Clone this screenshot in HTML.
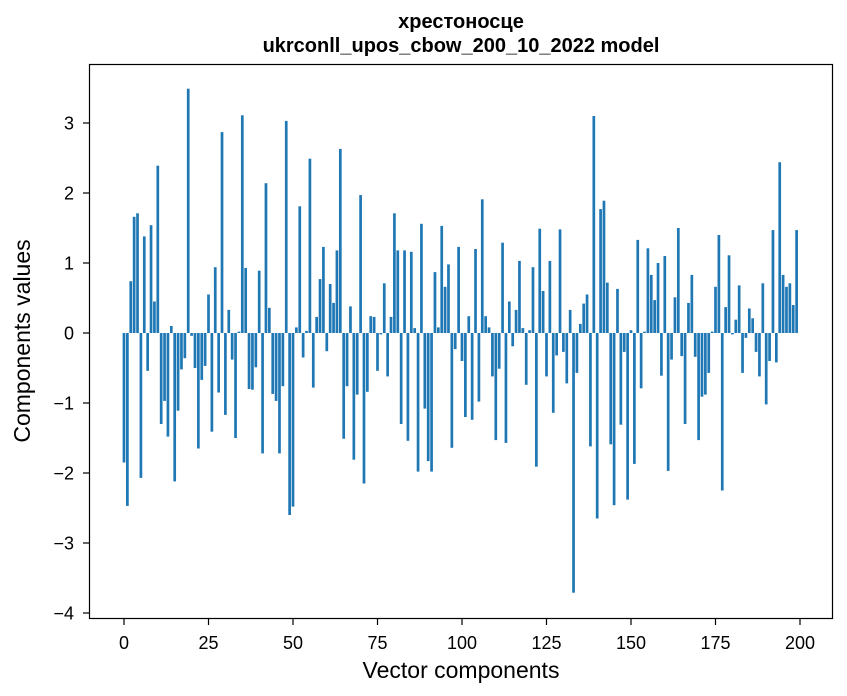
<!DOCTYPE html>
<html><head><meta charset="utf-8"><style>
html,body{margin:0;padding:0;background:#fff;}
svg{display:block;font-family:"Liberation Sans","DejaVu Sans",sans-serif;}
</style></head><body>
<svg id="chart" width="847" height="696" viewBox="0 0 847 696" xmlns="http://www.w3.org/2000/svg">
<rect x="0" y="0" width="847" height="696" fill="#fff"/>
<text x="461" y="28" text-anchor="middle" font-size="20" font-weight="bold" fill="#000">хрестоносце</text>
<text x="461" y="52" text-anchor="middle" font-size="20" font-weight="bold" fill="#000">ukrconll_upos_cbow_200_10_2022 model</text>
<g id="bars"></g>
<g id="xticks"></g>
<g id="yticks"></g>
<rect x="89.5" y="64.5" width="743" height="554" fill="none" stroke="#000" stroke-width="1.2"/>
<text x="461" y="678" text-anchor="middle" font-size="23" fill="#000">Vector components</text>
<text transform="translate(30,341) rotate(-90)" text-anchor="middle" font-size="23" fill="#000">Components values</text>
</svg>
<script>
const values = [
-1.85,-2.47,0.74,1.66,1.71,-2.07,1.38,-0.54,1.54,0.45,
2.39,-1.30,-0.97,-1.48,0.10,-2.12,-1.11,-0.52,-0.36,3.49,
-0.04,-0.50,-1.65,-0.67,-0.47,0.55,-1.41,0.94,-0.85,2.87,
-1.17,0.33,-0.38,-1.50,0.02,3.11,0.93,-0.80,-0.81,-0.49,
0.89,-1.72,2.14,0.36,-0.87,-0.97,-1.72,-0.76,3.03,-2.60,
-2.48,0.08,1.81,-0.35,0.03,2.49,-0.78,0.23,0.77,1.23,
-0.26,0.70,0.43,1.18,2.63,-1.51,-0.76,0.38,-1.81,-0.88,
1.97,-2.15,-0.84,0.24,0.23,-0.54,-0.02,0.71,-0.62,0.23,
1.71,1.18,-1.30,1.18,-1.54,1.16,0.07,-1.98,1.56,-1.08,
-1.83,-1.98,0.87,0.08,1.53,0.66,0.98,-1.64,-0.23,1.23,
-0.40,-1.20,0.24,-1.24,1.20,-0.98,1.91,0.24,0.08,-0.62,
-1.53,-0.51,1.29,-1.57,0.45,-0.19,0.33,1.03,0.07,-0.74,
0.04,0.94,-1.91,1.49,0.60,-0.62,1.03,-1.14,-0.32,1.48,
-0.27,-0.72,0.33,-3.71,-0.57,0.13,0.42,0.55,-1.62,3.10,
-2.65,1.77,1.89,0.72,-1.59,-2.46,0.63,-1.31,-0.27,-2.38,
0.04,-1.87,1.33,-0.79,0.02,1.21,0.83,0.47,1.00,-0.61,
1.10,-1.97,-0.38,0.51,1.50,-0.33,-1.30,0.43,0.83,-0.34,
-1.53,-0.91,-0.88,-0.57,0.02,0.66,1.40,-2.25,0.37,1.11,
-0.02,0.19,0.68,-0.57,-0.07,0.35,0.21,-0.27,-0.62,0.71,
-1.02,-0.40,1.47,-0.42,2.44,0.83,0.66,0.71,0.40,1.47
];
const xTickLabels = [0,25,50,75,100,125,150,175,200];
const yTickLabels = [-4,-3,-2,-1,0,1,2,3];

const NS = "http://www.w3.org/2000/svg";
const X0 = 124, XS = 3.38;
const Y0 = 333, YS = 70;
function xScale(i){ return X0 + i * XS; }
function yScale(v){ return Y0 - v * YS; }

const bars = document.getElementById('bars');
values.forEach(function(v, i){
  const r = document.createElementNS(NS, 'rect');
  const w = 0.8 * XS;
  const y1 = yScale(Math.max(v, 0)), y2 = yScale(Math.min(v, 0));
  r.setAttribute('x', xScale(i) - w / 2);
  r.setAttribute('y', y1);
  r.setAttribute('width', w);
  r.setAttribute('height', Math.max(y2 - y1, 0.3));
  r.setAttribute('fill', '#1f77b4');
  
  
  bars.appendChild(r);
});

const xt = document.getElementById('xticks');
xTickLabels.forEach(function(t){
  const x = xScale(t);
  const l = document.createElementNS(NS, 'line');
  l.setAttribute('x1', x); l.setAttribute('x2', x);
  l.setAttribute('y1', 619); l.setAttribute('y2', 625);
  l.setAttribute('stroke', '#000'); l.setAttribute('stroke-width', '1.2');
  
  
  xt.appendChild(l);
  const tx = document.createElementNS(NS, 'text');
  tx.setAttribute('x', x); tx.setAttribute('y', 649);
  tx.setAttribute('text-anchor', 'middle'); tx.setAttribute('font-size', '18');
  tx.textContent = String(t);
  
  
  xt.appendChild(tx);
});

const yt = document.getElementById('yticks');
yTickLabels.forEach(function(t){
  const y = yScale(t);
  const l = document.createElementNS(NS, 'line');
  l.setAttribute('x1', 83); l.setAttribute('x2', 89.5);
  l.setAttribute('y1', y); l.setAttribute('y2', y);
  l.setAttribute('stroke', '#000'); l.setAttribute('stroke-width', '1.2');
  
  
  yt.appendChild(l);
  const tx = document.createElementNS(NS, 'text');
  tx.setAttribute('x', 74); tx.setAttribute('y', y + 6.5);
  tx.setAttribute('text-anchor', 'end'); tx.setAttribute('font-size', '18');
  tx.textContent = t < 0 ? '\u2212' + Math.abs(t) : String(t);
  
  
  yt.appendChild(tx);
});
</script>
</body></html>
